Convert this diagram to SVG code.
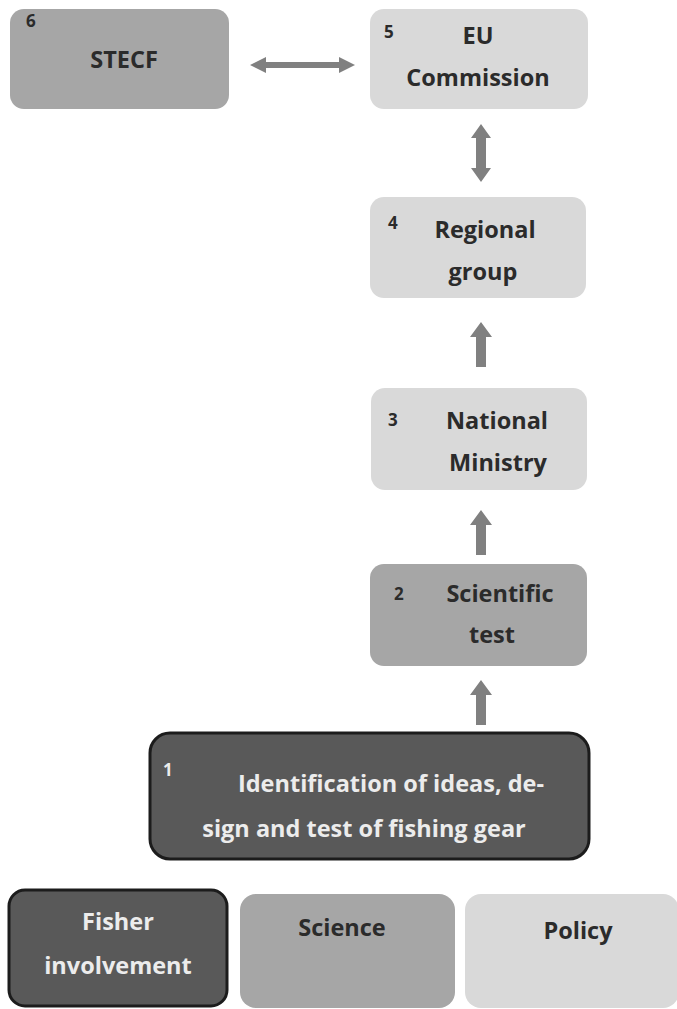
<svg xmlns="http://www.w3.org/2000/svg" width="677" height="1009" viewBox="0 0 677 1009">
<defs>
<style>
.t{font-family:"Open Sans","Liberation Sans",sans-serif;font-weight:700;font-size:23.5px;fill:#2b2b2b;text-anchor:middle}
.n{font-family:"Open Sans","Liberation Sans",sans-serif;font-weight:700;font-size:17px;fill:#2b2b2b}
.w{fill:#ececec}
.dark{fill:#595959;stroke:#1c1c1c;stroke-width:3}
.mid{fill:#a6a6a6}
.light{fill:#d9d9d9}
.arr{fill:#808080}
</style>
</defs>
<rect width="677" height="1009" fill="#ffffff"/>
<g id="node6">
<rect class="mid" x="10" y="9" width="219" height="100" rx="14"/>
<text class="n" x="26" y="27">6</text>
<text class="t" x="124" y="68">STECF</text>
</g>
<g id="node5">
<rect class="light" x="370" y="9" width="218" height="100" rx="14"/>
<text class="n" x="384" y="38">5</text>
<text class="t" x="478" y="44">EU</text>
<text class="t" x="478" y="86">Commission</text>
</g>
<g id="node4">
<rect class="light" x="370" y="197" width="216" height="101" rx="14"/>
<text class="n" x="388" y="229">4</text>
<text class="t" x="485" y="238">Regional</text>
<text class="t" x="483" y="280">group</text>
</g>
<g id="node3">
<rect class="light" x="371" y="388" width="216" height="102" rx="14"/>
<text class="n" x="388" y="426">3</text>
<text class="t" x="497" y="429">National</text>
<text class="t" x="498" y="471">Ministry</text>
</g>
<g id="node2">
<rect class="mid" x="370" y="564" width="217" height="102" rx="14"/>
<text class="n" x="394" y="600">2</text>
<text class="t" x="500" y="602">Scientific</text>
<text class="t" x="492" y="643">test</text>
</g>
<g id="node1">
<rect class="dark" x="150" y="733" width="439" height="126" rx="20"/>
<text class="n w" x="163" y="776">1</text>
<text class="t w" x="391" y="792">Identification of ideas, de-</text>
<text class="t w" x="364" y="837">sign and test of fishing gear</text>
</g>
<g id="legend-fisher">
<rect class="dark" x="9" y="890" width="218" height="116" rx="16"/>
<text class="t w" x="118" y="930">Fisher</text>
<text class="t w" x="118" y="974">involvement</text>
</g>
<g id="legend-science">
<rect class="mid" x="240" y="894" width="215" height="114" rx="16"/>
<text class="t" x="342" y="936">Science</text>
</g>
<g id="legend-policy">
<rect class="light" x="465" y="894" width="214" height="114" rx="16"/>
<text class="t" x="578" y="939">Policy</text>
</g>
<g id="connectors">
<polygon class="arr" points="250,65 266,57 266,62 339,62 339,57 355,65 339,73 339,68 266,68 266,73"/>
<polygon class="arr" points="481,124 491,138 486,138 486,168 491,168 481,182 471,168 476,168 476,138 471,138"/>
<polygon class="arr" points="481,322 492,337 486,337 486,367 476,367 476,337 470,337"/>
<polygon class="arr" points="481,510 492,525 486,525 486,555 476,555 476,525 470,525"/>
<polygon class="arr" points="481,680 492,695 486,695 486,725 476,725 476,695 470,695"/>
</g>
</svg>
